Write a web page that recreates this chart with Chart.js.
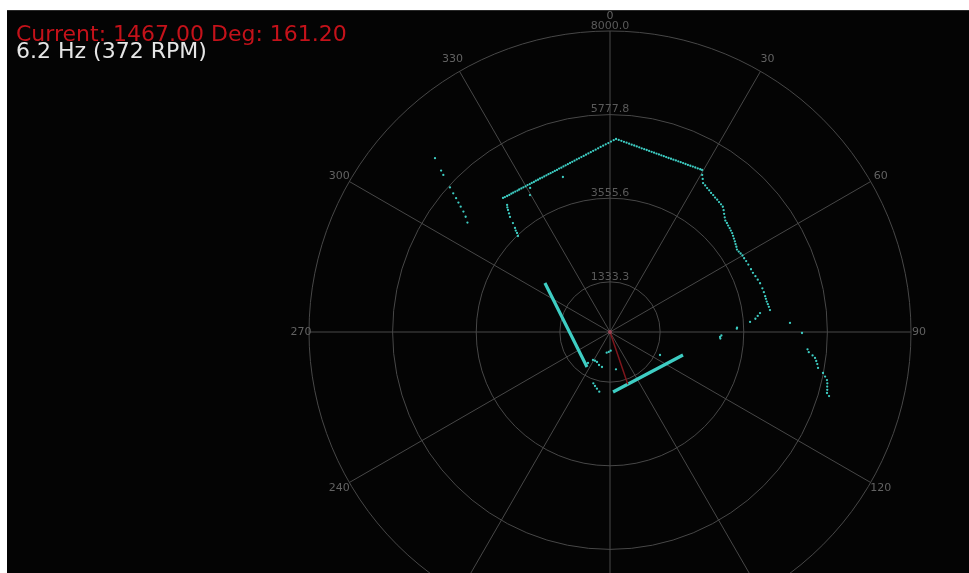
<!DOCTYPE html>
<html>
<head>
<meta charset="utf-8">
<script src="https://cdn.jsdelivr.net/npm/chart.js@4.4.0/dist/chart.umd.min.js"></script>
<style>
  html, body { margin: 0; padding: 0; background: #fff; overflow: hidden; width: 969px; height: 573px; }
  #frame { position: absolute; left: 7px; top: 10px; width: 962px; height: 563px; background: #040404; border-top: 1px solid #2a2a2a; box-sizing: border-box; }
  #plot { position: absolute; left: 0; top: 0; }
  .info { position: absolute; left: 16px; font-family: "DejaVu Sans", sans-serif; font-size: 22px; line-height: 22px; white-space: nowrap; }
  #current { top: 23px; color: #c4121a; }
  #rate { top: 40px; color: #e6e6e6; }
</style>
</head>
<body>
<div id="frame"></div>
<canvas id="plot" width="969" height="700"></canvas>
<div class="info" id="current">Current: 1467.00 Deg: 161.20</div>
<div class="info" id="rate">6.2 Hz (372 RPM)</div>
<script>
// scan points as [angle in degrees, distance]
const wallNorthWest = [
  [321.4, 4558], [322.1, 4546], [322.9, 4532], [323.7, 4522], [324.5, 4516], [325.2, 4508],
  [326.0, 4503], [326.8, 4492], [327.5, 4490], [328.3, 4484], [329.1, 4482], [329.9, 4475],
  [330.7, 4478], [331.5, 4470], [332.3, 4474], [333.1, 4470], [333.9, 4478], [334.7, 4476],
  [335.5, 4484], [336.3, 4482], [337.1, 4490], [337.9, 4493], [338.7, 4502], [339.5, 4508],
  [340.3, 4515], [341.1, 4526], [341.9, 4533], [342.7, 4548], [343.5, 4556], [344.3, 4572],
  [345.1, 4585], [345.9, 4600], [346.7, 4616], [347.5, 4633], [348.3, 4650], [349.1, 4672],
  [349.9, 4688], [350.7, 4712], [351.5, 4733], [352.3, 4757], [353.1, 4782], [353.9, 4806],
  [354.7, 4835], [355.5, 4862], [356.3, 4893], [357.1, 4924], [357.9, 4955], [358.7, 4990],
  [359.5, 5022], [0.3, 5060], [1.1, 5098], [1.8, 5132]
];
const wallNorthEast = [
  [2.6, 5110], [3.4, 5090], [4.2, 5068], [5.0, 5050], [5.8, 5030], [6.6, 5012], [7.4, 4998],
  [8.2, 4982], [9.0, 4970], [9.8, 4955], [10.6, 4944], [11.4, 4935], [12.2, 4924], [13.0, 4916],
  [13.8, 4908], [14.6, 4900], [15.4, 4896], [16.2, 4890], [17.0, 4888], [17.8, 4884], [18.6, 4880],
  [19.4, 4882], [20.2, 4880], [21.0, 4884], [21.8, 4885], [22.6, 4888], [23.4, 4892], [24.2, 4896],
  [25.0, 4900], [25.8, 4908], [26.6, 4916], [27.4, 4924], [28.2, 4934], [29.0, 4946], [29.6, 4952]
];
const wallEast = [
  [30.4, 4841], [31.2, 4756], [32.0, 4668], [33.0, 4645], [34.0, 4615], [35.0, 4596], [36.0, 4570],
  [37.0, 4558], [38.0, 4535], [39.0, 4526], [40.0, 4508], [41.0, 4497], [42.0, 4480], [43.0, 4428],
  [44.0, 4366], [45.0, 4312], [46.0, 4262], [47.0, 4248], [48.0, 4226], [49.0, 4212], [50.0, 4192],
  [51.0, 4178], [52.0, 4150], [53.0, 4124], [54.0, 4102], [55.0, 4074], [56.0, 4052], [57.0, 4024],
  [58.0, 4034], [59.0, 4050], [60.0, 4066], [61.2, 4068], [62.5, 4080], [64.0, 4090], [66.0, 4102],
  [67.5, 4112], [69.0, 4140], [70.5, 4166], [72.0, 4194], [74.0, 4213], [75.5, 4224], [77.0, 4232],
  [78.0, 4236], [79.0, 4244], [80.0, 4260], [81.0, 4275], [82.2, 4292]
];
const wallEastReturn = [
  [82.8, 4019], [83.8, 3950], [84.8, 3880], [85.9, 3732], [88.0, 3378], [88.5, 3372],
  [91.8, 2962], [92.6, 2927], [93.4, 2938], [87.1, 4790]
];
const wallFarEast = [
  [90.3, 5103], [95.0, 5270], [95.8, 5310], [96.6, 5420], [97.2, 5492], [98.0, 5535], [98.8, 5575],
  [99.8, 5611], [100.9, 5765], [101.7, 5838], [102.5, 5907], [103.3, 5935], [104.1, 5952],
  [104.9, 5975], [105.7, 5991], [106.3, 6066]
];
const wallFarWest = [
  [314.8, 6555], [313.7, 6209], [313.3, 6087], [312.1, 5733], [311.5, 5563], [311.0, 5420],
  [310.45, 5298], [310.0, 5181], [309.35, 5042], [308.6, 4909], [307.45, 4776]
];
const wallCorner = [
  [320.95, 4346], [320.5, 4290], [320.1, 4226], [319.6, 4140], [319.0, 4051], [318.3, 3878],
  [317.6, 3745], [317.1, 3680], [316.8, 3610], [316.2, 3535],
  [343.1, 4306], [330.95, 4378], [329.7, 4216]
];
const nearBits = [
  [215.4, 1010], [211.3, 871], [207.5, 862], [203.4, 869], [198.4, 925], [192.9, 954],
  [189.1, 557], [183.5, 530], [177.9, 497], [170.9, 1004],
  [198.0, 1434], [195.5, 1490], [193.0, 1545], [190.2, 1611], [114.7, 1463]
];
const nearWallWest = [[213.3, 1113], [230, 990], [243.4, 963], [260, 1005], [280, 1200], [295, 1550], [307, 2166]];
const nearWallSouth = [[107.5, 2034], [120, 1709], [135, 1514], [152.15, 1447], [165, 1484], [177.1, 1596]];
const currentRay = [[161.2, 1467], [161.3, 0]];

const rTicks = [1333.3, 3555.6, 5777.8, 8000.0];
const angleTicks = [0, 30, 60, 90, 120, 150, 180, 210, 240, 270, 300, 330];

const cyan = 'rgb(62, 205, 195)';
const gridColor = '#484848';

const degLabels = [];
for (let i = 0; i < 3600; i++) degLabels.push((i / 10).toFixed(1));

function toSeries(points) {
  const arr = new Array(degLabels.length).fill(null);
  points.forEach(([deg, dist]) => { arr[Math.round(deg * 10) % 3600] = dist; });
  return arr;
}

function dots(points) {
  return {
    data: toSeries(points), showLine: false, fill: false,
    pointRadius: 1.15, pointBorderWidth: 0, pointBackgroundColor: cyan, borderColor: cyan
  };
}

function wall(points) {
  return {
    data: toSeries(points), showLine: true, spanGaps: true, fill: false,
    borderColor: cyan, borderWidth: 3.2, pointRadius: 0
  };
}

const labelPlugin = {
  id: 'polarText',
  beforeDatasetsDraw(chart) {
    const s = chart.scales.r;
    const ctx = chart.ctx;
    ctx.save();
    ctx.font = '11px "DejaVu Sans"';
    ctx.textAlign = 'center';
    ctx.textBaseline = 'middle';
    ctx.fillStyle = '#5a5a5a';
    rTicks.forEach(v => {
      const d = s.getDistanceFromCenterForValue(v);
      ctx.fillText(v.toFixed(1), s.xCenter, s.yCenter - d - 5);
    });
    ctx.fillStyle = '#626262';
    angleTicks.forEach(a => {
      const extra = 8 + 7 * Math.abs(Math.cos(a * Math.PI / 180));
      const p = s.getPointPosition(a * 10, s.drawingArea + extra);
      ctx.fillText(String(a), p.x, p.y);
    });
    ctx.restore();
  }
};

new Chart(document.getElementById('plot'), {
  type: 'radar',
  data: {
    labels: degLabels,
    datasets: [
      {
        data: toSeries(currentRay), showLine: true, spanGaps: true, fill: false,
        borderColor: 'rgb(125, 22, 28)', borderWidth: 1.5,
        pointRadius: ctx => (ctx.raw === 0 ? 2 : 0), pointBorderWidth: 0,
        pointBackgroundColor: 'rgb(150, 70, 85)'
      },
      dots(wallNorthWest),
      dots(wallNorthEast),
      dots(wallEast),
      dots(wallEastReturn),
      dots(wallFarEast),
      dots(wallFarWest),
      dots(wallCorner),
      dots(nearBits),
      wall(nearWallWest),
      wall(nearWallSouth)
    ]
  },
  options: {
    responsive: false,
    animation: false,
    events: [],
    layout: { padding: { left: 309, top: 31, right: 58, bottom: 67 } },
    plugins: { legend: { display: false }, tooltip: { enabled: false } },
    scales: {
      r: {
        min: 0,
        max: 8000,
        afterBuildTicks: scale => { scale.ticks = [0, ...rTicks].map(v => ({ value: v })); },
        ticks: { display: false },
        pointLabels: { display: false },
        grid: { circular: true, color: gridColor, lineWidth: 1 },
        angleLines: { color: gridColor, lineWidth: ctx => (ctx.index % 300 === 0 ? 1 : 0) }
      }
    }
  },
  plugins: [labelPlugin]
});
</script>
</body>
</html>
